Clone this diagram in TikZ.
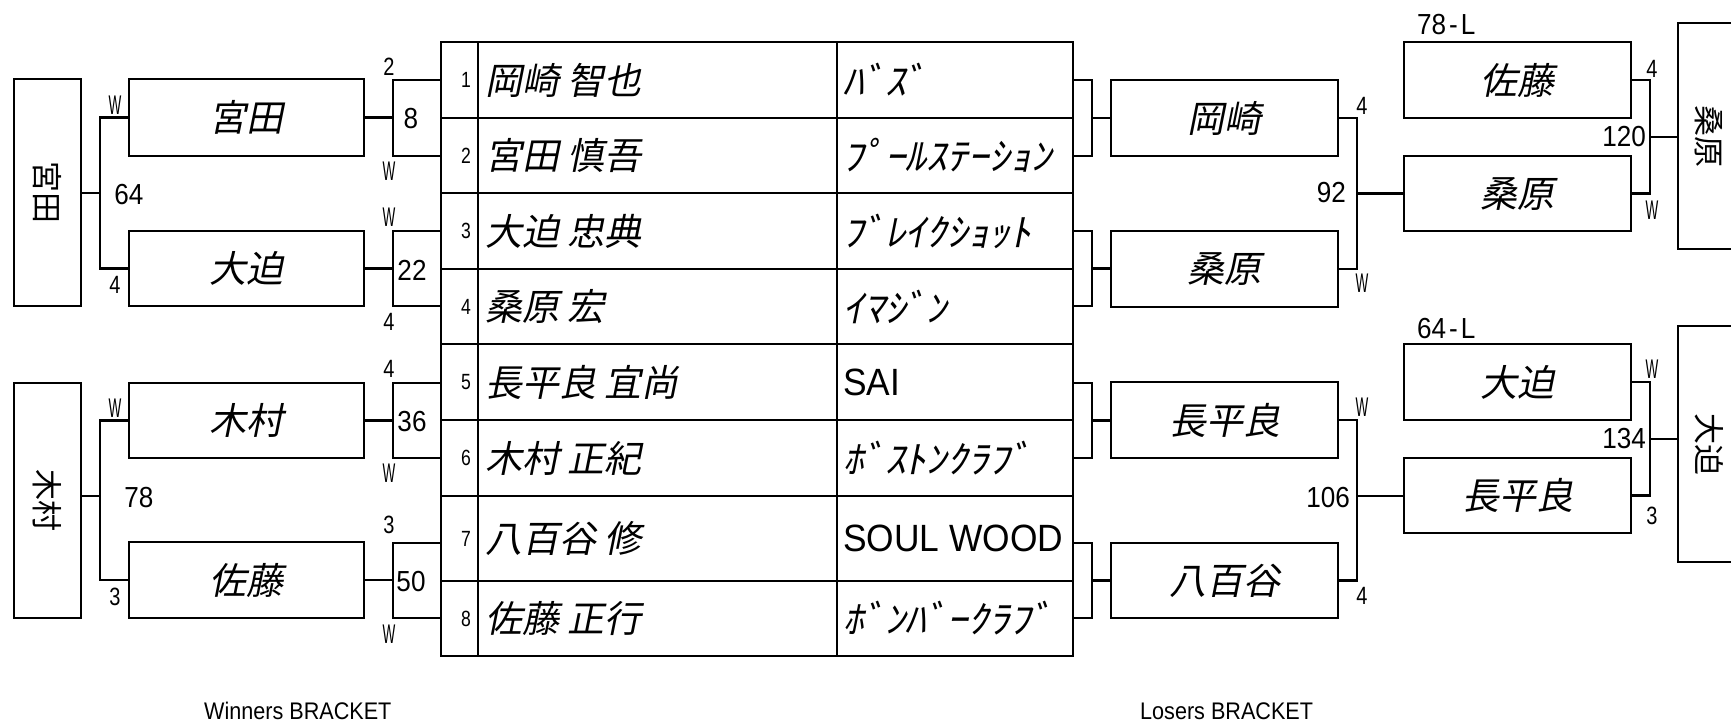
\documentclass[tikz,border=0pt]{standalone}
\usepackage{fontspec}
\newfontfamily\jpf[FakeSlant=0.2]{Noto Sans CJK JP}
\newfontfamily\jpv{Noto Sans CJK JP}
\newfontfamily\kanaf[FakeSlant=0.2,FakeStretch=1.1]{Noto Sans CJK JP}
\newfontfamily\numf[FakeStretch=0.9]{Liberation Sans}
\newfontfamily\narf[FakeStretch=0.8]{Liberation Sans}
\newfontfamily\wwf[FakeStretch=0.5]{Liberation Sans}
\newfontfamily\latf[FakeStretch=0.93]{Liberation Sans}
\newcommand\bx[7][]{\node[bx,#1,minimum width={#5-#3},minimum height={#6-#4}] (#2) at ({(#3+#5)/2},{(#4+#6)/2}) {#7};}
\tikzset{
  bx/.style={draw,line width=2.9pt,inner sep=0pt,outer sep=0pt,rectangle},
  ln/.style={draw,line width=2.9pt},
  nm/.style={font=\jpf\fontsize{37}{40}\selectfont},
  vt/.style={font=\jpv\fontsize{31}{33}\selectfont,inner sep=0pt,rotate=-90},
  sc/.style={font=\narf\fontsize{25}{27}\selectfont,inner sep=0pt},
  wl/.style={font=\wwf\fontsize{27}{29}\selectfont,inner sep=0pt},
  bn/.style={font=\numf\fontsize{29}{32}\selectfont,inner sep=0pt},
  seat/.style={font=\narf\fontsize{22}{24}\selectfont,inner sep=0pt},
  pn/.style={font=\jpf\fontsize{37}{40}\selectfont,inner sep=0pt,anchor=west},
  tk/.style={font=\kanaf\fontsize{38}{40}\selectfont,inner sep=0pt,anchor=west},
  tl/.style={font=\latf\fontsize{38}{40}\selectfont,inner sep=0pt,anchor=west},
  captxt/.style={font=\numf\fontsize{24}{26}\selectfont,inner sep=0pt,anchor=base west},
}
\begin{document}
\begin{tikzpicture}[x=1pt,y=-1pt]
\useasboundingbox (0,0) rectangle (1731,721);
% ---------- winners side
\bx{wf1}{14}{79}{81}{306}{}
\bx{wf2}{14}{383}{81}{618}{}
\node[vt] (wf1t) at (wf1.center) {宮田};
\node[vt] (wf2t) at (wf2.center) {木村};
\bx[nm]{wa}{129}{79}{364}{156}{宮田}
\bx[nm]{wb}{129}{231}{364}{306}{大迫}
\bx[nm]{wc}{129}{383}{364}{458}{木村}
\bx[nm]{wd}{129}{542}{364}{618}{佐藤}
\bx{m1}{393}{80}{441}{156}{}
\bx{m2}{393}{231}{441}{306}{}
\bx{m3}{393}{383}{441}{458}{}
\bx{m4}{393}{543}{441}{618}{}
% ---------- table
\bx{c1a}{441}{42}{478}{118}{}   \bx{c1b}{478}{42}{837}{118}{}   \bx{c1c}{837}{42}{1073}{118}{}
\bx{c2a}{441}{118}{478}{193}{}  \bx{c2b}{478}{118}{837}{193}{}  \bx{c2c}{837}{118}{1073}{193}{}
\bx{c3a}{441}{193}{478}{269}{}  \bx{c3b}{478}{193}{837}{269}{}  \bx{c3c}{837}{193}{1073}{269}{}
\bx{c4a}{441}{269}{478}{344}{}  \bx{c4b}{478}{269}{837}{344}{}  \bx{c4c}{837}{269}{1073}{344}{}
\bx{c5a}{441}{344}{478}{420}{}  \bx{c5b}{478}{344}{837}{420}{}  \bx{c5c}{837}{344}{1073}{420}{}
\bx{c6a}{441}{420}{478}{496}{}  \bx{c6b}{478}{420}{837}{496}{}  \bx{c6c}{837}{420}{1073}{496}{}
\bx{c7a}{441}{496}{478}{581}{}  \bx{c7b}{478}{496}{837}{581}{}  \bx{c7c}{837}{496}{1073}{581}{}
\bx{c8a}{441}{581}{478}{656}{}  \bx{c8b}{478}{581}{837}{656}{}  \bx{c8c}{837}{581}{1073}{656}{}
\node[seat] (s1n) at (466,80) {1};
\node[seat] (s2n) at (466,155.5) {2};
\node[seat] (s3n) at (466,231) {3};
\node[seat] (s4n) at (466,306.5) {4};
\node[seat] (s5n) at (466,382) {5};
\node[seat] (s6n) at (466,458) {6};
\node[seat] (s7n) at (466,538.5) {7};
\node[seat] (s8n) at (466,618.5) {8};
\node[pn] (p1) at (485,80) {岡崎 智也};
\node[pn] (p2) at (485,155.5) {宮田 慎吾};
\node[pn] (p3) at (485,231) {大迫 忠典};
\node[pn] (p4) at (485,306.5) {桑原 宏};
\node[pn] (p5) at (485,382) {長平良 宜尚};
\node[pn] (p6) at (485,458) {木村 正紀};
\node[pn] (p7) at (485,538.5) {八百谷 修};
\node[pn] (p8) at (485,618.5) {佐藤 正行};
\node[tk] (t1) at (843,80) {ﾊﾞｽﾞ};
\node[tk] (t2) at (843,155.5) {ﾌﾟｰﾙｽﾃｰｼｮﾝ};
\node[tk] (t3) at (843,231) {ﾌﾞﾚｲｸｼｮｯﾄ};
\node[tk] (t4) at (843,306.5) {ｲﾏｼﾞﾝ};
\node[tl] (t5) at (843,382) {SAI};
\node[tk] (t6) at (843,458) {ﾎﾞｽﾄﾝｸﾗﾌﾞ};
\node[tl] (t7) at (843,538.5) {SOUL WOOD};
\node[tk] (t8) at (843,618.5) {ﾎﾞﾝﾊﾞｰｸﾗﾌﾞ};
% ---------- losers side
\bx{r1}{1073}{80}{1092}{156}{}
\bx{r2}{1073}{231}{1092}{306}{}
\bx{r3}{1073}{383}{1092}{458}{}
\bx{r4}{1073}{543}{1092}{618}{}
\bx[nm]{l1}{1111}{80}{1338}{156}{岡崎}
\bx[nm]{l2}{1111}{231}{1338}{307}{桑原}
\bx[nm]{l3}{1111}{382}{1338}{458}{長平良}
\bx[nm]{l4}{1111}{543}{1338}{618}{八百谷}
\bx[nm]{s1}{1404}{42}{1631}{118}{佐藤}
\bx[nm]{s2}{1404}{156}{1631}{231}{桑原}
\bx[nm]{s3}{1404}{344}{1631}{420}{大迫}
\bx[nm]{s4}{1404}{458}{1631}{533}{長平良}
\bx{f1}{1678}{23}{1745}{249}{}
\bx{f2}{1678}{326}{1745}{562}{}
\node[vt] (f1t) at (1709,136) {桑原};
\node[vt] (f2t) at (1709,444) {大迫};
% ---------- connectors
\coordinate (bw1) at (100,193);
\coordinate (bw2) at (100,496);
\draw[ln] (wa.west) -| (bw1) |- (wb.west);
\draw[ln] (wf1.east |- bw1) -- (bw1);
\draw[ln] (wc.west) -| (bw2) |- (wd.west);
\draw[ln] (wf2.east |- bw2) -- (bw2);
\draw[ln] (wa.east) -- (wa.east -| m1.west);
\draw[ln] (wb.east) -- (wb.east -| m2.west);
\draw[ln] (wc.east) -- (wc.east -| m3.west);
\draw[ln] (wd.east) -- (wd.east -| m4.west);
\draw[ln] (r1.east) -- (r1.east -| l1.west);
\draw[ln] (r2.east) -- (r2.east -| l2.west);
\draw[ln] (r3.east) -- (r3.east -| l3.west);
\draw[ln] (r4.east) -- (r4.east -| l4.west);
\coordinate (bl1) at (1357,193.5);
\coordinate (bl2) at (1357,496);
\coordinate (bl3) at (1650,137);
\coordinate (bl4) at (1650,439);
\draw[ln] (l1.east) -| (bl1) |- (l2.east);
\draw[ln] (bl1) -- (bl1 -| s2.west);
\draw[ln] (l3.east) -| (bl2) |- (l4.east);
\draw[ln] (bl2) -- (bl2 -| s4.west);
\draw[ln] (s1.east) -| (bl3) |- (s2.east);
\draw[ln] (bl3) -- (bl3 -| f1.west);
\draw[ln] (s3.east) -| (bl4) |- (s4.east);
\draw[ln] (bl4) -- (bl4 -| f2.west);
% ---------- labels, winners side
\node[wl] (lw1) at (115,105) {W};
\node[sc] (lw2) at (115,285) {4};
\node[bn] (lw3) at (129,195) {64};
\node[wl] (lw4) at (115,408) {W};
\node[sc] (lw5) at (115,597) {3};
\node[bn] (lw6) at (139,498) {78};
\node[sc] (lm1) at (389,67) {2};
\node[wl] (lm2) at (389,171) {W};
\node[wl] (lm3) at (389,217) {W};
\node[sc] (lm4) at (389,322) {4};
\node[sc] (lm5) at (389,369) {4};
\node[wl] (lm6) at (389,473) {W};
\node[sc] (lm7) at (389,525) {3};
\node[wl] (lm8) at (389,634) {W};
\node[bn] (g1) at (411,119) {8};
\node[bn] (g2) at (412,270) {22};
\node[bn] (g3) at (412,422) {36};
\node[bn] (g4) at (411,582) {50};
% ---------- labels, losers side
\node[sc] (ll1) at (1362,106) {4};
\node[wl] (ll2) at (1362,283) {W};
\node[bn,anchor=east] (ll3) at (1346,193) {92};
\node[wl] (ll4) at (1362,407) {W};
\node[sc] (ll5) at (1362,596) {4};
\node[bn,anchor=east] (ll6) at (1350,498) {106};
\node[bn,anchor=west] (lq1) at (1417,25) {78\kern3pt-\kern3pt L};
\node[bn,anchor=west] (lq2) at (1417,329) {64\kern3pt-\kern3pt L};
\node[sc] (lf1) at (1652,69) {4};
\node[wl] (lf2) at (1652,210) {W};
\node[bn,anchor=east] (lf3) at (1646,137) {120};
\node[wl] (lf4) at (1652,369) {W};
\node[sc] (lf5) at (1652,516) {3};
\node[bn,anchor=east] (lf6) at (1646,439) {134};
% ---------- captions
\node[captxt] (cw) at (204,719) {Winners BRACKET};
\node[captxt] (cl) at (1140,719) {Losers BRACKET};
\end{tikzpicture}
\end{document}
